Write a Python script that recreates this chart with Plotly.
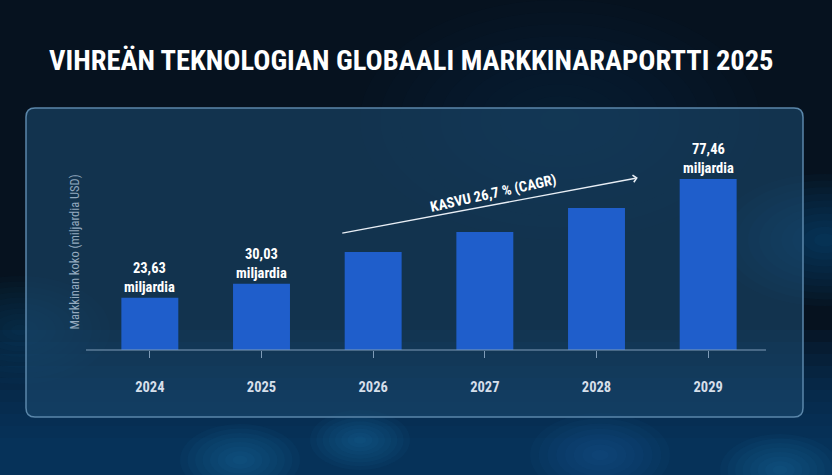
import plotly.graph_objects as go

years = ["2024", "2025", "2026", "2027", "2028", "2029"]
values = [23.63, 30.03, 44.4, 53.5, 64.3, 77.46]
labels = ["23,63<br>miljardia", "30,03<br>miljardia", "", "", "", "77,46<br>miljardia"]
title_text = "VIHREÄN TEKNOLOGIAN GLOBAALI MARKKINARAPORTTI 2025"
y_title = "Markkinan koko (miljardia USD)"
cagr_text = "KASVU 26,7 % (CAGR)"

W, H = 832, 475
L, R, T, B = 94, 68, 120, 125
PW, PH = W - L - R, H - T - B
FONT = "Roboto Condensed, Roboto, sans-serif"


def px(x):
    return (x - L) / PW


def py(y):
    return (H - B - y) / PH


fig = go.Figure()
fig.add_trace(go.Bar(
    x=years, y=values,
    marker=dict(color="#1f5ecb", line=dict(width=0)),
    width=0.51, hoverinfo="skip",
))

shapes = []
# lower bluish band (soft, layered)
for i in range(10):
    yb = 330 + i * 12
    shapes.append(dict(type="rect", xref="paper", yref="paper", x0=px(0), x1=px(W), y0=py(H), y1=py(yb),
                       fillcolor="#0b4576", opacity=0.12, line=dict(width=0), layer="below"))
# background glows
glows = [
    (240, 460, 60, "#2a86c4", 0.05, 8),
    (360, 440, 50, "#2a86c4", 0.05, 8),
    (600, 455, 70, "#2a86c4", 0.04, 8),
    (780, 470, 60, "#2a86c4", 0.05, 8),
    (825, 240, 110, "#2383c0", 0.04, 10),
    (20, 330, 90, "#1a5f90", 0.04, 10),
    (560, 120, 200, "#174e78", 0.025, 10),
]
for cx, cy, r, col, op, n in glows:
    for i in range(n):
        rr = r * (1 - i / n)
        shapes.append(dict(type="circle", xref="paper", yref="paper",
                           x0=px(cx - rr), x1=px(cx + rr), y0=py(cy + rr * 0.6), y1=py(cy - rr * 0.6),
                           fillcolor=col, opacity=op, line=dict(width=0), layer="below"))

# panel with rounded corners
x0p, y0p, x1p, y1p, rad = 26, 108, 803, 417, 9


def P(x, y):
    return f"{px(x)},{py(y)}"


path = (f"M {P(x0p + rad, y0p)} L {P(x1p - rad, y0p)} Q {P(x1p, y0p)} {P(x1p, y0p + rad)} "
        f"L {P(x1p, y1p - rad)} Q {P(x1p, y1p)} {P(x1p - rad, y1p)} "
        f"L {P(x0p + rad, y1p)} Q {P(x0p, y1p)} {P(x0p, y1p - rad)} "
        f"L {P(x0p, y0p + rad)} Q {P(x0p, y0p)} {P(x0p + rad, y0p)} Z")
shapes.append(dict(type="path", xref="paper", yref="paper", path=path,
                   fillcolor="rgba(26,74,110,0.6)", line=dict(color="#5b87aa", width=1.5), layer="below"))
# axis baseline
shapes.append(dict(type="line", xref="paper", yref="paper", x0=px(86), x1=px(766), y0=0, y1=0,
                   line=dict(color="#7f9cb8", width=1.2), layer="above"))

annotations = []
for i, (v, lab) in enumerate(zip(values, labels)):
    if lab:
        annotations.append(dict(x=i, y=v, xref="x", yref="y", text=lab, showarrow=False,
                                yanchor="bottom", yshift=0, align="center",
                                font=dict(family=FONT, size=14.5, color="white", weight="bold")))
# CAGR arrow
annotations.append(dict(x=4.37, y=78.0, ax=1.71, ay=52.8, xref="x", yref="y", axref="x", ayref="y",
                        text="", showarrow=True, arrowhead=4, arrowsize=1, arrowwidth=1.4,
                        arrowcolor="#e8eef5"))
annotations.append(dict(x=3.08, y=71.0, xref="x", yref="y", text=cagr_text, showarrow=False,
                        textangle=-12.5, font=dict(family=FONT, size=14.5, color="white", weight="bold")))
# title
annotations.append(dict(x=px(47), y=py(61), xref="paper", yref="paper", xanchor="left", yanchor="middle",
                        text=title_text, showarrow=False,
                        font=dict(family=FONT, size=28.5, color="white", weight="bold")))
# y axis title
annotations.append(dict(x=px(64), y=py(252), xref="paper", yref="paper", text=y_title, showarrow=False,
                        textangle=-90, font=dict(family=FONT, size=12.5, color="#93a9bf")))

fig.update_layout(
    width=W, height=H,
    margin=dict(l=L, r=R, t=T, b=B),
    paper_bgcolor="#06121f",
    plot_bgcolor="rgba(0,0,0,0)",
    showlegend=False,
    shapes=shapes,
    annotations=annotations,
    xaxis=dict(type="category", range=[-0.5, 5.5], showgrid=False, zeroline=False, showline=False,
               ticks="outside", ticklen=7, tickcolor="#7f9cb8", tickwidth=1,
               tickfont=dict(family=FONT, size=14.5, color="#d6dfea", weight="bold"), ticklabelstandoff=17),
    yaxis=dict(range=[0, 104.2], showgrid=False, zeroline=False, showticklabels=False, showline=False),
    bargap=0.49,
)

fig.write_html("out.html")
